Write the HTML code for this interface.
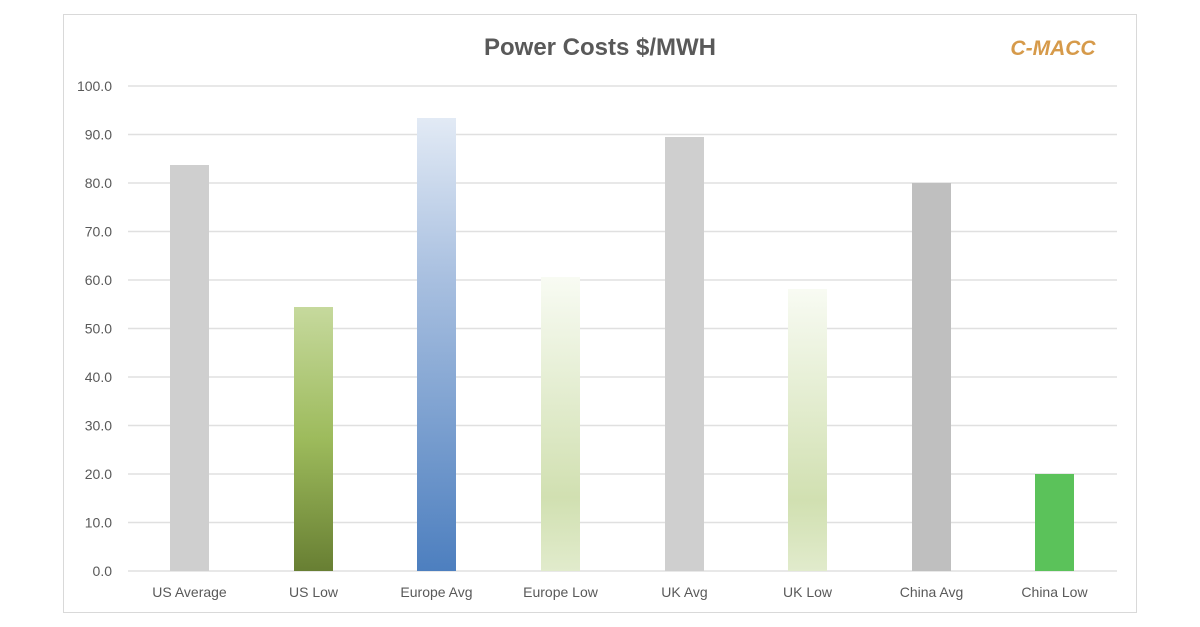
<!DOCTYPE html>
<html><head><style>body{margin:0;background:#fff}svg{display:block}</style></head><body>
<svg width="1200" height="627" viewBox="0 0 1200 627" xmlns="http://www.w3.org/2000/svg" font-family="Liberation Sans, sans-serif">
<defs>
<linearGradient id="g1" x1="0" y1="0" x2="0" y2="1"><stop offset="0" stop-color="#c6d99d"/><stop offset="0.5" stop-color="#9dbb5c"/><stop offset="1" stop-color="#687f33"/></linearGradient>
<linearGradient id="g2" x1="0" y1="0" x2="0" y2="1"><stop offset="0" stop-color="#e2eaf5"/><stop offset="0.35" stop-color="#a9c0e0"/><stop offset="1" stop-color="#4d7fbf"/></linearGradient>
<linearGradient id="g3" x1="0" y1="0" x2="0" y2="1"><stop offset="0" stop-color="#f8fbf3"/><stop offset="0.75" stop-color="#d1e0b1"/><stop offset="1" stop-color="#e1ebcc"/></linearGradient>
</defs>
<rect x="63.5" y="14.5" width="1073" height="598" fill="#fff" stroke="#d9d9d9"/>
<g stroke="#e0e0e0" stroke-width="1.5">
<line x1="128" x2="1117" y1="86" y2="86"/><line x1="128" x2="1117" y1="134.5" y2="134.5"/><line x1="128" x2="1117" y1="183" y2="183"/><line x1="128" x2="1117" y1="231.5" y2="231.5"/><line x1="128" x2="1117" y1="280" y2="280"/><line x1="128" x2="1117" y1="328.5" y2="328.5"/><line x1="128" x2="1117" y1="377" y2="377"/><line x1="128" x2="1117" y1="425.5" y2="425.5"/><line x1="128" x2="1117" y1="474" y2="474"/><line x1="128" x2="1117" y1="522.5" y2="522.5"/><line x1="128" x2="1117" y1="571" y2="571"/>
</g>
<g font-size="14" fill="#595959" text-anchor="end">
<text x="112" y="91">100.0</text><text x="112" y="139.5">90.0</text><text x="112" y="188">80.0</text><text x="112" y="236.5">70.0</text><text x="112" y="285">60.0</text><text x="112" y="333.5">50.0</text><text x="112" y="382">40.0</text><text x="112" y="430.5">30.0</text><text x="112" y="479">20.0</text><text x="112" y="527.5">10.0</text><text x="112" y="576">0.0</text>
</g>
<rect x="170" y="165" width="39" height="406" fill="#cfcfcf"/>
<rect x="294" y="307" width="39" height="264" fill="url(#g1)"/>
<rect x="417" y="118" width="39" height="453" fill="url(#g2)"/>
<rect x="541" y="277" width="39" height="294" fill="url(#g3)"/>
<rect x="665" y="137" width="39" height="434" fill="#cfcfcf"/>
<rect x="788" y="289" width="39" height="282" fill="url(#g3)"/>
<rect x="912" y="183" width="39" height="388" fill="#bfbfbf"/>
<rect x="1035" y="474" width="39" height="97" fill="#5bc25a"/>
<g font-size="14" fill="#595959" text-anchor="middle">
<text x="189.5" y="597">US Average</text><text x="313.5" y="597">US Low</text><text x="436.5" y="597">Europe Avg</text><text x="560.5" y="597">Europe Low</text><text x="684.5" y="597">UK Avg</text><text x="807.5" y="597">UK Low</text><text x="931.5" y="597">China Avg</text><text x="1054.5" y="597">China Low</text>
</g>
<text x="600" y="55" font-size="24" font-weight="bold" fill="#595959" text-anchor="middle">Power Costs $/MWH</text>
<text x="1053" y="55" font-size="21" font-weight="bold" font-style="italic" fill="#d69a4a" text-anchor="middle">C-MACC</text>
</svg>
</body></html>
